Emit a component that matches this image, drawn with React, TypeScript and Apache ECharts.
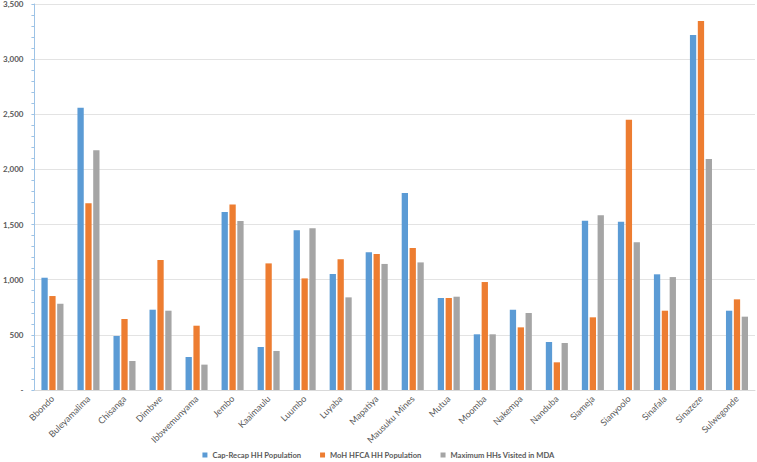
import React, { useEffect, useRef } from "react";
import * as echarts from "echarts";

const categories = [
  "Bbondo", "Buleyamalima", "Chisanga", "Dimbwe", "Ibbwemunyama", "Jembo", "Kaaimaulu",
  "Luumbo", "Luyaba", "Mapatiya", "Mausuku Mines", "Mutua", "Moomba", "Nakempa",
  "Nanduba", "Siameja", "Sianyoolo", "Sinafala", "Sinazeze", "Sulwegonde",
];
const capRecap = [1018, 2560, 490, 728, 299, 1614, 390, 1448, 1052, 1248, 1786, 834, 505, 728, 435, 1535, 1526, 1049, 3218, 719];
const mohHfca = [852, 1693, 644, 1179, 583, 1683, 1148, 1012, 1185, 1233, 1287, 834, 979, 568, 251, 659, 2451, 719, 3345, 822];
const maxVisited = [782, 2173, 263, 719, 230, 1532, 354, 1466, 840, 1143, 1157, 846, 505, 698, 426, 1584, 1339, 1024, 2094, 665];
const seriesNames = ["Cap-Recap HH Population", "MoH HFCA HH Population", "Maximum HHs Visited in MDA"];
const colors = ["#5B9BD5", "#ED7D31", "#A5A5A5"];

export default function App() {
  const ref = useRef<HTMLDivElement>(null);
  useEffect(() => {
    if (!ref.current) return;
    const chart = echarts.init(ref.current, null, { renderer: "svg" });
    const data = [capRecap, mohHfca, maxVisited];
    chart.setOption({
      animation: false,
      backgroundColor: "#ffffff",
      color: colors,
      grid: { left: 33, right: 2, top: 4, bottom: 72, containLabel: false },
      legend: {
        top: 451,
        left: "center",
        padding: 0,
        itemWidth: 5,
        itemHeight: 5,
        itemGap: 19,
        icon: "rect",
        textStyle: { fontFamily: "Lato", fontSize: 7.6, fontWeight: "bold", color: "#595959" },
        data: seriesNames,
      },
      xAxis: {
        type: "category",
        data: categories,
        axisLine: { lineStyle: { color: "#D9D9D9" } },
        axisTick: { show: false },
        axisLabel: {
          rotate: 45,
          interval: 0,
          fontFamily: "Lato",
          fontSize: 9,
          color: "#595959",
          margin: 7,
        },
      },
      yAxis: {
        type: "value",
        min: 0,
        max: 3500,
        interval: 500,
        axisLine: { show: true, lineStyle: { color: "#9DC3E6" } },
        axisTick: { show: true, length: 3, lineStyle: { color: "#9DC3E6" } },
        minorTick: { show: true, splitNumber: 5, length: 3, lineStyle: { color: "#9DC3E6" } },
        splitLine: { lineStyle: { color: "#E3E3E3" } },
        axisLabel: {
          fontFamily: "Lato",
          fontSize: 8,
          fontWeight: "bold",
          color: "#595959",
          margin: 11,
          formatter: (v: number) => (v === 0 ? "-" : v.toLocaleString("en-US")),
        },
      },
      series: seriesNames.map((name, i) => ({
        name,
        type: "bar",
        data: data[i],
        barWidth: 6.3,
        barGap: "25%",
        itemStyle: { color: colors[i] },
      })),
    });
    return () => chart.dispose();
  }, []);
  return (
    <div
      ref={ref}
      style={{ position: "fixed", left: 0, top: 0, width: 757, height: 462, background: "#fff" }}
    />
  );
}
